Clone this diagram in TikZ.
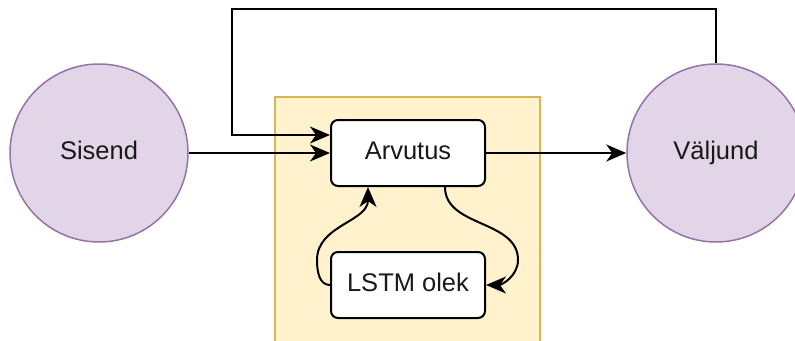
\documentclass[tikz,border=0pt]{standalone}
\usepackage{fontspec}
\setmainfont{Liberation Sans}
\usetikzlibrary{arrows.meta,calc}
\definecolor{purplefill}{HTML}{E1D5E7}
\definecolor{purpleline}{HTML}{9673A6}
\definecolor{yellowfill}{HTML}{FFF2CC}
\definecolor{yellowline}{HTML}{D6B656}
\tikzset{
  lbl/.style={font=\fontsize{25.5}{30}\selectfont, text=black!90,
    text height=18pt, text depth=5pt},
  state/.style={lbl, circle, draw=purpleline, fill=purplefill, line width=1.5pt,
    minimum size=178pt, inner sep=0pt},
  procbox/.style={lbl, rectangle, rounded corners=7pt, draw=black, fill=white,
    line width=2pt, minimum width=154pt, minimum height=66pt, inner sep=0pt},
  link/.style={line width=2pt, draw=black},
  arr/.style={link, -{Stealth[length=20pt, width=17pt, inset=6pt]}}
}
\begin{document}
\begin{tikzpicture}[x=1pt, y=-1pt]
  \useasboundingbox (0,0) rectangle (795,340);
  % background of the recurrent block
  \filldraw[fill=yellowfill, draw=yellowline, line width=1.5pt] (275,97) rectangle (540,350);

  \node[state] (sis) at (99,153) {Sisend};
  \node[state] (val) at (716,153) {Väljund};
  \node[procbox] (arv) at (408,153) {Arvutus};
  \node[procbox] (lstm) at (408,285) {LSTM olek};

  % feedback route over the top
  \coordinate (top) at (232,9);
  \draw[arr] (val.north) |- (top) |- ([yshift=18pt]arv.west);

  % forward path
  \draw[arr] (sis.east) -- (arv.west);
  \draw[arr] (arv.east) -- (val.west);

  % state loop
  \draw[arr] (lstm.west) to[out=180,in=270] ($(lstm.west)+(-13,-25)$)
             to[out=90,in=270] ([xshift=-40pt]arv.south);
  \draw[arr] ([xshift=37pt]arv.south) to[out=270,in=90] ($(lstm.east)+(32,-25)$)
             to[out=270,in=0] (lstm.east);
\end{tikzpicture}
\end{document}
